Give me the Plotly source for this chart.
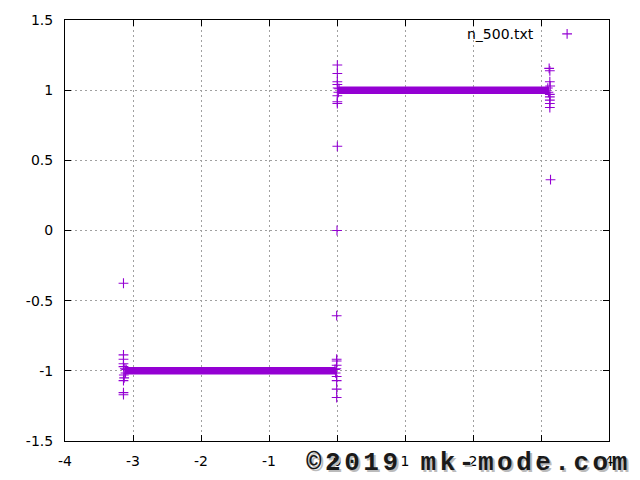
import plotly.graph_objects as go

# ---- data ----
# dense plateaus (drawn as thick bands of overlapping markers)
band_lo_x = [-3.12, -0.02]
band_lo_y = [-1.0, -1.0]
band_hi_x = [0.02, 3.12]
band_hi_y = [1.0, 1.0]

# individual points around the jumps
pts_x = [
    -3.14, -3.14, -3.14, -3.14, -3.14, -3.135, -3.13, -3.14, -3.14, -3.14, -3.12, -3.11, -3.10,
    -0.005, -0.005, -0.005, -0.005, -0.005, -0.005, -0.005, -0.005, -0.01, -0.02, -0.03,
    0.0,
    0.005, 0.005, 0.005, 0.005, 0.005, 0.005, 0.005, 0.005, 0.01, 0.02, 0.03,
    3.14, 3.13, 3.13, 3.13, 3.13, 3.13, 3.135, 3.13, 3.13, 3.12, 3.11, 3.10,
]
pts_y = [
    -0.376, -0.886, -0.917, -0.95, -0.97, -1.03, -1.05, -1.07, -1.155, -1.17, -0.985, -1.015, -0.99,
    -0.607, -0.917, -0.93, -0.96, -1.04, -1.07, -1.13, -1.19, -0.985, -1.015, -0.99,
    0.0,
    0.6, 0.905, 0.917, 0.96, 1.04, 1.06, 1.119, 1.179, 1.015, 0.985, 1.01,
    0.362, 0.876, 0.905, 0.929, 0.952, 0.97, 1.03, 1.06, 1.138, 1.155, 0.985, 1.015,
]

x_ticks = [-4, -3, -2, -1, 0, 1, 2, 3, 4]
x_labels = ["-4", "-3", "-2", "-1", "0", "1", "2", "3", "4"]
y_ticks = [-1.5, -1, -0.5, 0, 0.5, 1, 1.5]
y_labels = ["-1.5", "-1", "-0.5", "0", "0.5", "1", "1.5"]

legend_label = "n_500.txt"
legend_pos_x = [0.923]
legend_pos_y = [0.967]

COLOR = "#9400D3"
FONT = "DejaVu Sans"
MARK = dict(symbol="cross-thin", size=7, line=dict(color=COLOR, width=1.1))

fig = go.Figure()

for bx, by in ((band_lo_x, band_lo_y), (band_hi_x, band_hi_y)):
    fig.add_trace(go.Scatter(x=bx, y=by, mode="lines",
                             line=dict(color=COLOR, width=7.5),
                             hoverinfo="skip", showlegend=False))

fig.add_trace(go.Scatter(x=pts_x, y=pts_y, mode="markers", marker=MARK,
                         showlegend=False))

# legend sample on helper axes
fig.add_trace(go.Scatter(x=legend_pos_x, y=legend_pos_y, xaxis="x2", yaxis="y2",
                         mode="markers", marker=MARK,
                         showlegend=False, hoverinfo="skip"))

axis_common = dict(
    showgrid=True, gridcolor="#a0a0a0", gridwidth=1, griddash="2px,3px",
    zeroline=False, showline=True, linecolor="black", linewidth=1,
    mirror="ticks", ticks="inside", ticklen=6, tickcolor="black", tickwidth=1,
    tickfont=dict(family=FONT, size=14, color="black"),
    automargin=False,
)

# the page body has an 8px margin, so the margins are compensated for it
fig.update_layout(
    width=640, height=480,
    margin=dict(l=57, r=39, t=12, b=47, autoexpand=False),
    paper_bgcolor="white", plot_bgcolor="white",
    showlegend=False,
    xaxis=dict(range=[-4, 4], tickvals=x_ticks, ticktext=x_labels,
               ticklabelstandoff=7, **axis_common),
    yaxis=dict(range=[-1.5, 1.5], tickvals=y_ticks, ticktext=y_labels,
               ticklabelstandoff=8, **axis_common),
    xaxis2=dict(range=[0, 1], overlaying="x", visible=False),
    yaxis2=dict(range=[0, 1], overlaying="y", visible=False),
    shapes=[
        # key area blanks the grid behind it
        dict(type="rect", xref="paper", yref="paper", x0=0.72, x1=0.95,
             y0=0.943, y1=0.988, fillcolor="white", line=dict(width=0),
             layer="below"),
    ],
    annotations=[
        dict(text=legend_label, xref="paper", yref="paper", x=0.865, y=0.967,
             xanchor="right", yanchor="middle", showarrow=False,
             font=dict(family=FONT, size=14, color="black")),
        dict(text='<span style="letter-spacing:3.5px">©2019 mk-mode.com</span>',
             xref="paper", yref="paper",
             x=1.045, y=-0.052, xanchor="right", yanchor="middle", showarrow=False,
             font=dict(family="Liberation Mono", size=26, color="#1a1a1a",
                       weight="bold", shadow="2px 2px 0px #bbbbbb")),
    ],
)

fig.write_html("out.html")
